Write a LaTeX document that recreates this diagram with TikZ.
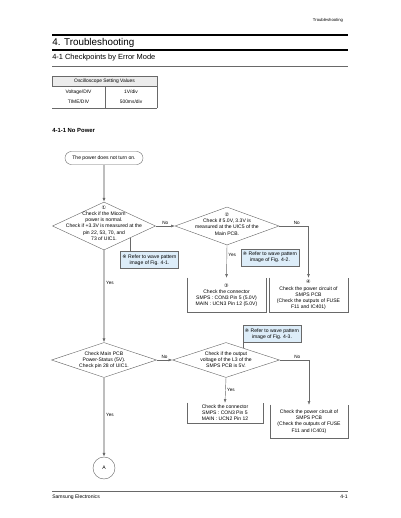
\documentclass[tikz,border=0pt]{standalone}
\usepackage{fontspec}
\setmainfont{Liberation Sans}
\newfontfamily\symfont{DejaVu Sans}
\usepackage{xcolor}
\usetikzlibrary{positioning,arrows.meta,shapes.geometric,calc}
\definecolor{notefill}{RGB}{221,237,249}
\definecolor{lined}{RGB}{105,105,105}
\definecolor{trunk}{RGB}{190,190,190}

\begin{document}
\begin{tikzpicture}[x=0.25mm,y=-0.25mm,font=\fontsize{3.6}{4.4}\selectfont,
      line/.style={draw=lined,line width=0.3pt},
      arr/.style={line,-{Latex[length=0.9mm,width=0.7mm]}},
      trunkarr/.style={draw=trunk,line width=1.1pt,-{Latex[length=1mm,width=0.8mm,color=lined]}},
      decision/.style={diamond,draw=lined,line width=0.3pt,inner sep=0pt},
      dtext/.style={align=center,inner sep=0pt},
      note/.style={draw=lined,line width=0.3pt,fill=notefill,align=center,minimum width=14.5mm,minimum height=4.2mm,inner sep=0.5pt},
      check/.style={align=center,inner sep=0.5pt,minimum width=19.5mm},
      lbl/.style={inner sep=1pt,font=\fontsize{3.3}{4}\selectfont},
      cell/.style={inner sep=0pt,font=\fontsize{3.5}{4}\selectfont}]
    \useasboundingbox (0,0) rectangle (400,518);

    % page head
    \node[anchor=east,font=\fontsize{3}{4}\selectfont] (runhead) at (348,20) {Troubleshooting};
    \draw[line width=0.9pt] (52,35) -- (348,35);
    \node[anchor=west,inner sep=0pt,font=\fontsize{7}{8}\selectfont] (chap) at (52,43) {4. Troubleshooting};
    \draw[line width=0.9pt] (52,50) -- (348,50);
    \node[anchor=west,inner sep=0pt,font=\fontsize{5.3}{6}\selectfont] (sec) at (52,58) {4-1 Checkpoints by Error Mode};
    \draw[draw=lined,line width=0.6pt] (52,66) -- (348,66);

    % scope settings
    \node[draw=lined,line width=0.3pt,fill=gray!15,minimum width=26.25mm,minimum height=2.5mm,inner sep=0pt,font=\fontsize{3.5}{4}\selectfont] (thead) at (104.5,81) {Oscilloscope Setting Values};
    \draw[line] (105,86) -- (105,108) (157,86) -- (157,108) (52,108) -- (157,108);
    \node[cell] (vdiv) at (78.5,92) {Voltage/DIV};
    \node[cell] (vval) at (131,92) {1V/div};
    \node[cell] (tdiv) at (78.5,102) {TIME/DIV};
    \node[cell] (tval) at (131,102) {500ms/div};

    \node[anchor=west,inner sep=0pt,font=\fontsize{4.2}{5}\selectfont\bfseries] (sub) at (52,130) {4-1-1 No Power};

    % flow
    \node[draw=lined,line width=0.3pt,rounded corners=1.6mm,minimum width=19.5mm,minimum height=3.25mm,inner sep=0pt] (start) at (104,158) {The power does not turn on.};

    \node[decision,minimum width=25.75mm,minimum height=12mm] (d1) at (104,226) {};
    \node[dtext] (d1t) at (104,223) {{\symfont ①}\\Check if the Micom\\power is normal.\\Check if +3.3V is measured at the\\pin 22, 53, 70, and\\73 of UIC1.};
    \node[decision,minimum width=26mm,minimum height=9.5mm] (d2) at (227,226) {};
    \node[dtext] (d2t) at (227,224) {{\symfont ②}\\Check if 5.0V, 3.3V is\\measured at the UIC5 of the\\Main PCB.};

    \node[note] (n1) at (149.5,260) {{\symfont ※} Refer to wave pattern\\image of Fig. 4-1.};
    \node[note] (n2) at (270,257.5) {{\symfont ※} Refer to wave pattern\\image of Fig. 4-2.};

    \node[check,minimum height=8.5mm] (b3) at (226.5,295) {{\symfont ③}\\Check the connector\\SMPS : CON3 Pin 5 (5.0V)\\MAIN : UCN3 Pin 12 (5.0V)};
    \node[check,minimum height=8.5mm] (b4) at (308.5,295) {{\symfont ④}\\Check the power circuit of\\SMPS PCB\\(Check the outputs of FUSE\\F11 and IC401)};

    \node[note] (n3) at (272,334) {{\symfont ※} Refer to wave pattern\\image of Fig. 4-3.};
    \node[decision,minimum width=26.25mm,minimum height=8.75mm] (d3) at (104,360) {};
    \node[dtext] (d3t) at (104,360) {Check Main PCB\\Power-Status (5V).\\Check pin 28 of UIC1.};
    \node[decision,minimum width=26.75mm,minimum height=8.75mm] (d4) at (226,360) {};
    \node[dtext] (d4t) at (226,360) {Check if the output\\voltage of the L3 of the\\SMPS PCB is 5V.};

    \node[check,minimum width=19mm,minimum height=5mm] (b5) at (225,413) {Check the connector\\SMPS : CON3 Pin 5\\MAIN : UCN2 Pin 12};
    \node[check,minimum height=8.25mm] (b6) at (309,421.5) {Check the power circuit of\\SMPS PCB\\(Check the outputs of FUSE\\F11 and IC401)};

    \node[circle,draw=lined,line width=0.3pt,minimum size=5.5mm,inner sep=0pt] (conA) at (104,468) {A};

    \foreach \b in {b3,b4,b5,b6}
      \draw[line] (\b.north west) |- (\b.south east) -- (\b.north east);

    \draw[trunkarr] (start) -- (d1.north);
    \draw[trunkarr] (d1.south) -- node[lbl,right,pos=0.35] {Yes} (d3.north);
    \draw[trunkarr] (d3.south) -- node[lbl,right,pos=0.47] {Yes} (conA.north);

    \draw[arr] (d1.east) -- node[lbl,above] {No} (d2.west);
    \draw[line] (d1.south east) -- (d1.south east |- n1.north);
    \draw[arr] (d2.south) -- node[lbl,right,pos=0.3] {Yes} (b3.north);
    \draw[arr] (d2.east) -| node[lbl,above,pos=0.3] {No} (b4.north);

    \draw[arr] (d3.east) -- node[lbl,above] {No} (d4.west);
    \coordinate (t3) at ($(d4.north)!0.32!(d4.east)$);
    \draw[line] (t3) -- (t3 |- n3.south);
    \draw[arr] (d4.south) -- node[lbl,right] {Yes} (b5.north);
    \draw[arr] (d4.east) -| node[lbl,above,pos=0.3] {No} (b6.north);

    % page foot
    \draw[draw=lined,line width=0.6pt] (52,491) -- (348,491);
    \node[anchor=west,inner sep=0pt,font=\fontsize{3.6}{4}\selectfont] (foot) at (52,497) {Samsung Electronics};
    \node[anchor=east,inner sep=0pt,font=\fontsize{3.6}{4}\selectfont] (page) at (348,497) {4-1};
  \end{tikzpicture}
\end{document}
